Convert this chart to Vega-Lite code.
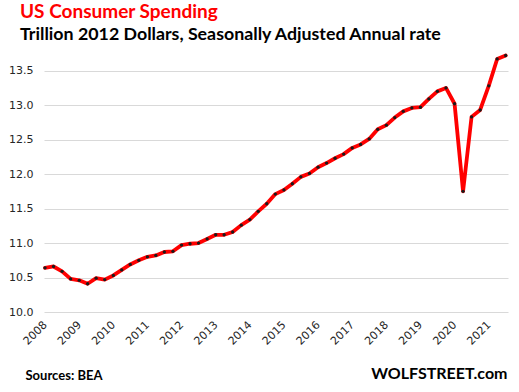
{
  "$schema": "https://vega.github.io/schema/vega-lite/v6.json",
  "width": 464,
  "height": 262,
  "autosize": "none",
  "padding": {"left": 44, "top": 50, "right": 11, "bottom": 80},
  "background": "white",
  "title": {
    "text": "US Consumer Spending",
    "subtitle": "Trillion 2012 Dollars, Seasonally Adjusted Annual rate",
    "anchor": "start",
    "frame": "group",
    "dx": -24,
    "offset": 6,
    "font": "Lato",
    "fontSize": 19,
    "fontWeight": "bold",
    "color": "#FF0000",
    "subtitleFont": "Lato",
    "subtitleFontSize": 17.8,
    "subtitleFontWeight": "bold",
    "subtitleColor": "#000000",
    "subtitlePadding": 4
  },
  "data": {
    "values": [
      {"d": "2008-01-01", "v": 10.64}, {"d": "2008-04-01", "v": 10.66}, {"d": "2008-07-01", "v": 10.59}, {"d": "2008-10-01", "v": 10.48},
      {"d": "2009-01-01", "v": 10.46}, {"d": "2009-04-01", "v": 10.41}, {"d": "2009-07-01", "v": 10.49}, {"d": "2009-10-01", "v": 10.47},
      {"d": "2010-01-01", "v": 10.53}, {"d": "2010-04-01", "v": 10.61}, {"d": "2010-07-01", "v": 10.69}, {"d": "2010-10-01", "v": 10.75},
      {"d": "2011-01-01", "v": 10.80}, {"d": "2011-04-01", "v": 10.82}, {"d": "2011-07-01", "v": 10.87}, {"d": "2011-10-01", "v": 10.88},
      {"d": "2012-01-01", "v": 10.97}, {"d": "2012-04-01", "v": 10.99}, {"d": "2012-07-01", "v": 11.00}, {"d": "2012-10-01", "v": 11.06},
      {"d": "2013-01-01", "v": 11.12}, {"d": "2013-04-01", "v": 11.12}, {"d": "2013-07-01", "v": 11.16}, {"d": "2013-10-01", "v": 11.26},
      {"d": "2014-01-01", "v": 11.34}, {"d": "2014-04-01", "v": 11.46}, {"d": "2014-07-01", "v": 11.57}, {"d": "2014-10-01", "v": 11.71},
      {"d": "2015-01-01", "v": 11.77}, {"d": "2015-04-01", "v": 11.86}, {"d": "2015-07-01", "v": 11.96}, {"d": "2015-10-01", "v": 12.01},
      {"d": "2016-01-01", "v": 12.10}, {"d": "2016-04-01", "v": 12.16}, {"d": "2016-07-01", "v": 12.23}, {"d": "2016-10-01", "v": 12.29},
      {"d": "2017-01-01", "v": 12.38}, {"d": "2017-04-01", "v": 12.43}, {"d": "2017-07-01", "v": 12.51}, {"d": "2017-10-01", "v": 12.65},
      {"d": "2018-01-01", "v": 12.71}, {"d": "2018-04-01", "v": 12.82}, {"d": "2018-07-01", "v": 12.91}, {"d": "2018-10-01", "v": 12.96},
      {"d": "2019-01-01", "v": 12.97}, {"d": "2019-04-01", "v": 13.09}, {"d": "2019-07-01", "v": 13.20}, {"d": "2019-10-01", "v": 13.25},
      {"d": "2020-01-01", "v": 13.02}, {"d": "2020-04-01", "v": 11.75}, {"d": "2020-07-01", "v": 12.83}, {"d": "2020-10-01", "v": 12.93},
      {"d": "2021-01-01", "v": 13.28}, {"d": "2021-04-01", "v": 13.67}, {"d": "2021-07-01", "v": 13.72}
    ],
    "format": {"parse": {"d": "utc:'%Y-%m-%d'"}}
  },
  "encoding": {
    "x": {
      "field": "d",
      "type": "temporal",
      "scale": {
        "type": "utc",
        "domain": [
          {"year": 2007, "month": 12, "date": 21, "utc": true},
          {"year": 2021, "month": 7, "date": 26, "utc": true}
        ]
      },
      "axis": {
        "tickCount": {"interval": "year", "step": 1},
        "format": "%Y",
        "formatType": "utc",
        "labelAngle": -45,
        "labelAlign": "right",
        "labelBaseline": "middle",
        "labelFont": "DejaVu Sans",
        "labelFontSize": 11,
        "labelColor": "#262626",
        "labelPadding": 11,
        "labelFlush": false,
        "labelOverlap": false,
        "ticks": false,
        "domain": false,
        "grid": false,
        "title": "Sources: BEA",
        "titleAnchor": "start",
        "titleAlign": "left",
        "titleBaseline": "alphabetic",
        "titleX": -19,
        "titleY": 67,
        "titleFont": "Lato",
        "titleFontSize": 13,
        "titleFontWeight": "bold",
        "titleColor": "#000000"
      }
    },
    "y": {
      "field": "v",
      "type": "quantitative",
      "scale": {"domain": [10, 13.8], "zero": false, "nice": false},
      "axis": {
        "values": [10, 10.5, 11, 11.5, 12, 12.5, 13, 13.5],
        "format": ".1f",
        "labelFont": "DejaVu Sans",
        "labelFontSize": 11,
        "labelColor": "#262626",
        "labelPadding": 11,
        "ticks": false,
        "domain": false,
        "grid": true,
        "gridColor": "#d9d9d9",
        "gridWidth": 1,
        "title": null
      }
    }
  },
  "layer": [
    {
      "mark": {"type": "line", "color": "#FF0000", "strokeWidth": 3.8, "strokeJoin": "round", "strokeCap": "round"}
    },
    {
      "mark": {"type": "point", "filled": true, "color": "#1a1a1a", "size": 11, "opacity": 1},
      "encoding": {
        "y": {
          "field": "v",
          "type": "quantitative",
          "axis": {
            "orient": "right",
            "labels": false,
            "ticks": false,
            "domain": false,
            "grid": false,
            "title": "WOLFSTREET.com",
            "titleAngle": 0,
            "titleAlign": "right",
            "titleBaseline": "alphabetic",
            "titleX": -1,
            "titleY": 328,
            "titleFont": "Lato",
            "titleFontSize": 16,
            "titleFontWeight": "bold",
            "titleColor": "#000000"
          }
        }
      }
    }
  ],
  "resolve": {"axis": {"y": "independent"}},
  "config": {"view": {"stroke": null}}
}
